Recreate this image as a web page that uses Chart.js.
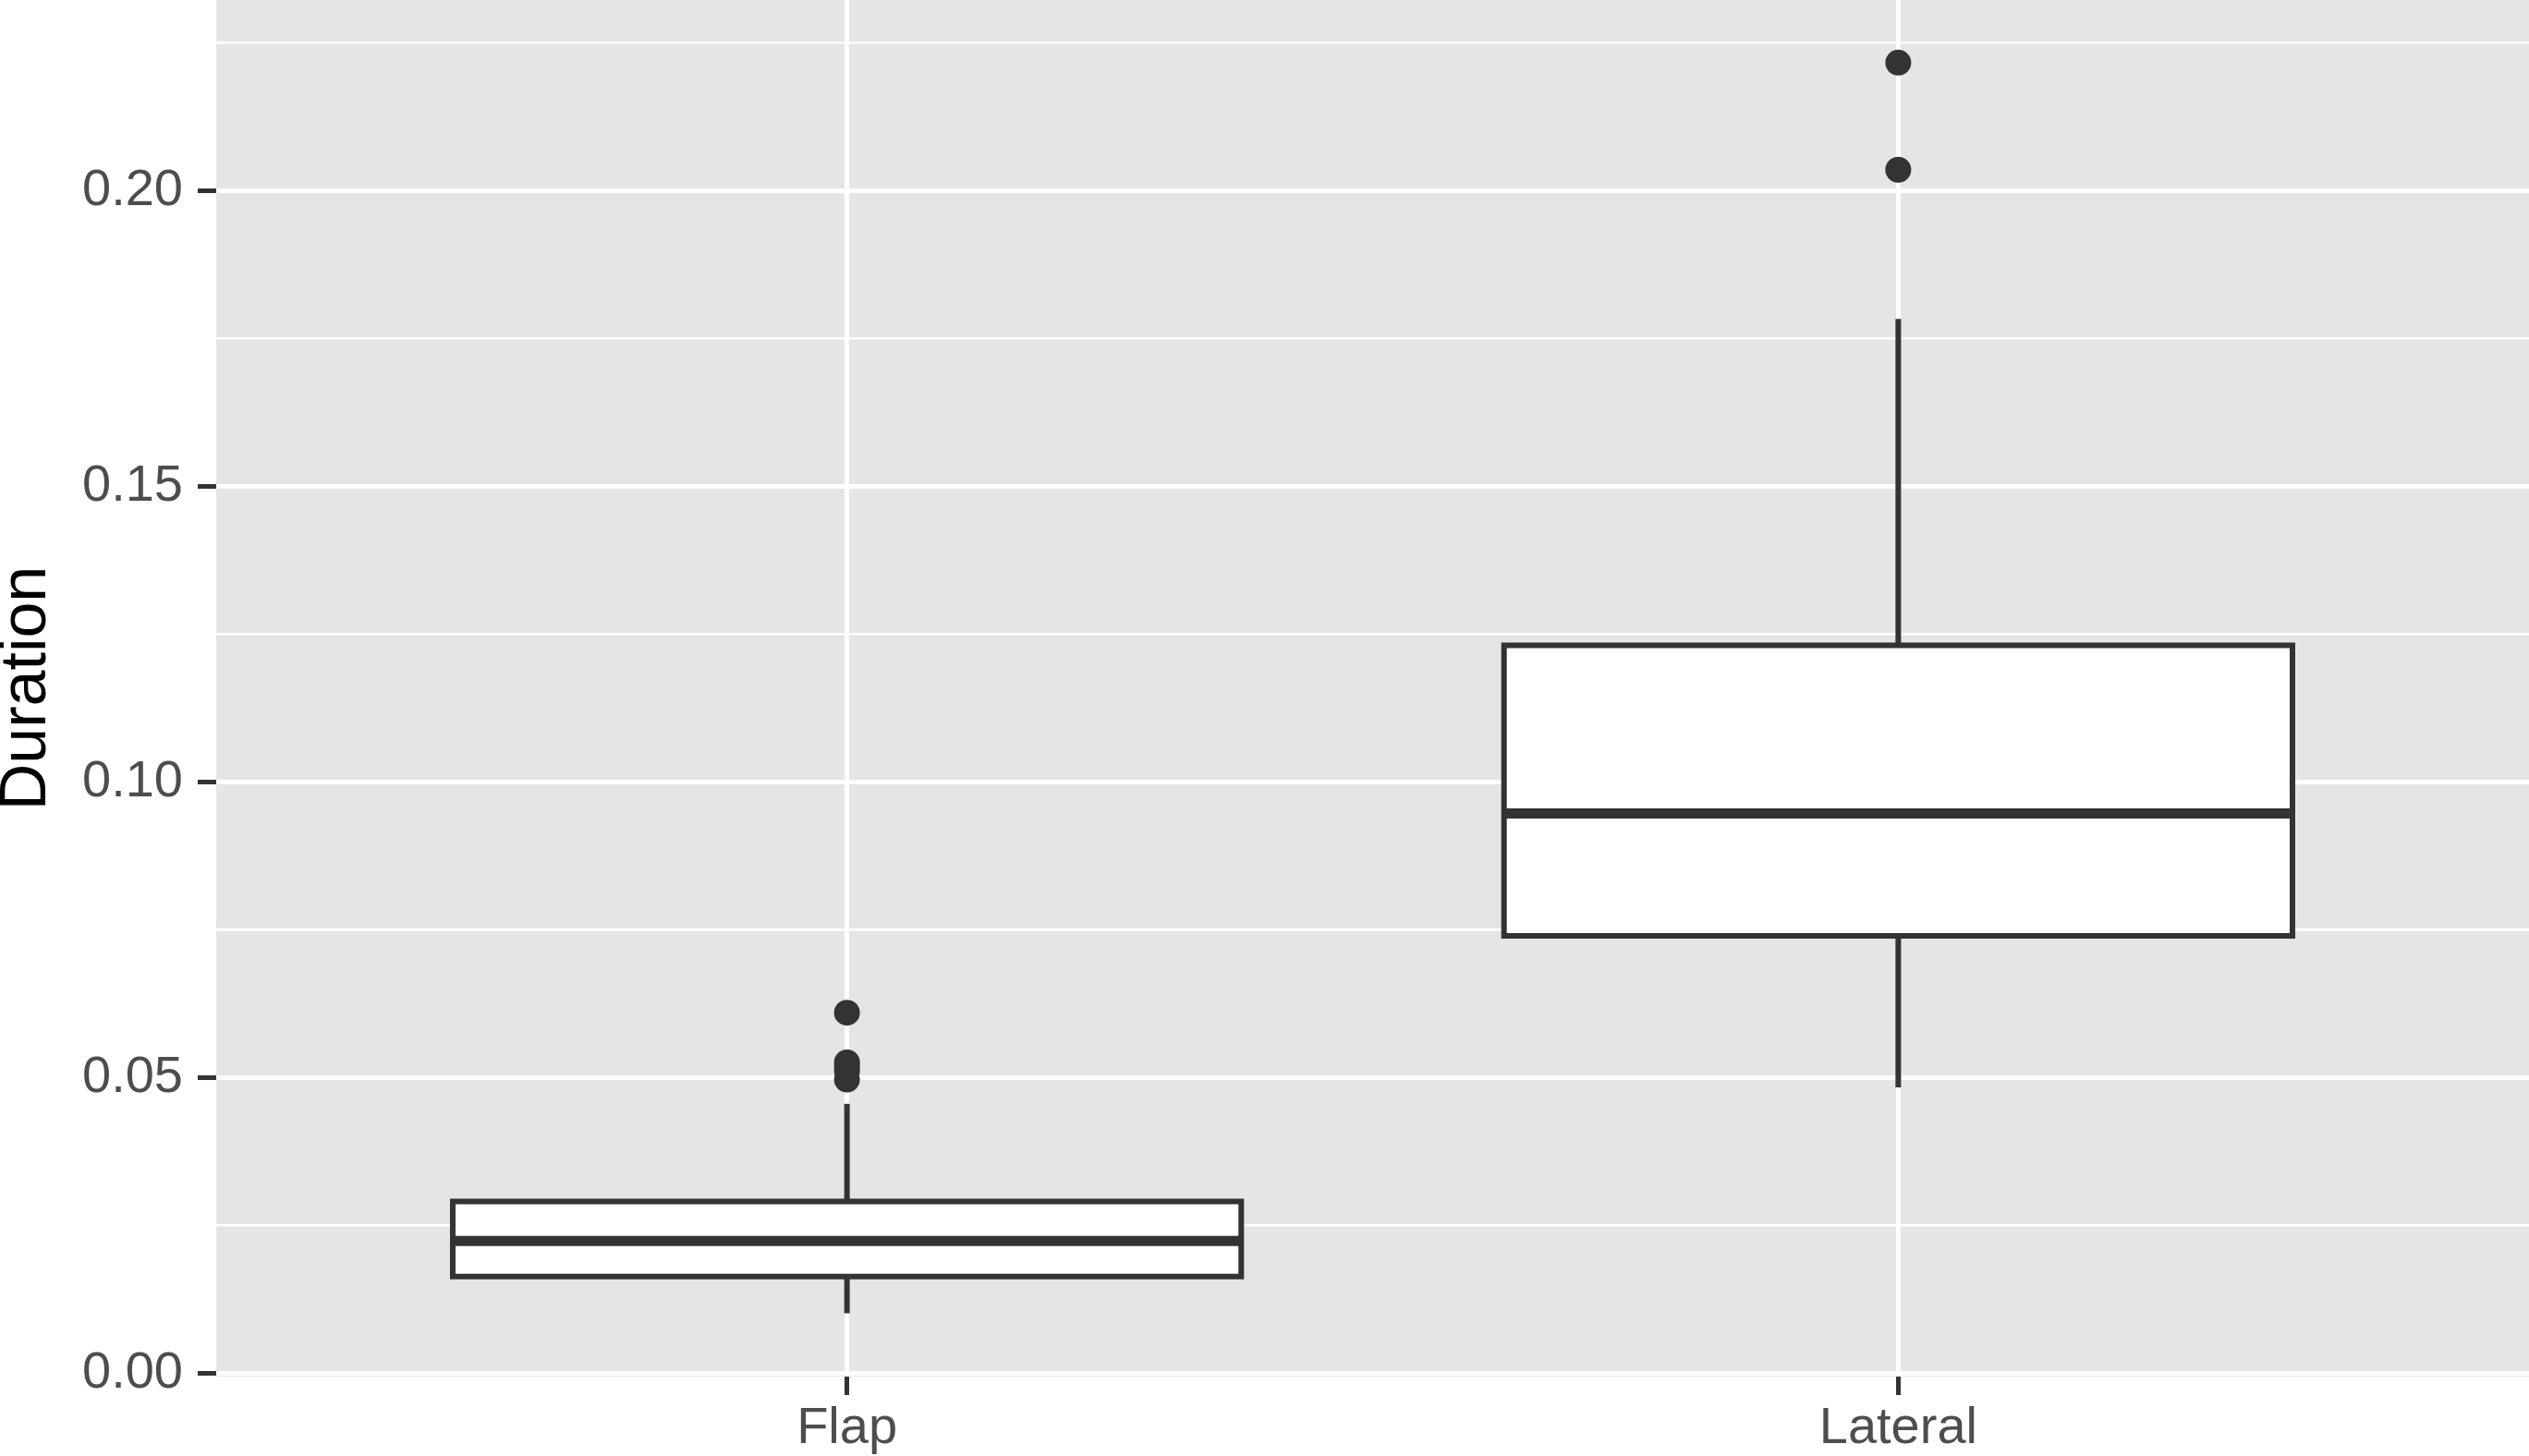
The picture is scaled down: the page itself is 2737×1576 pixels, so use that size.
<!DOCTYPE html>
<html>
<head>
<meta charset="utf-8">
<script src="https://cdn.jsdelivr.net/npm/chart.js@4.4.1/dist/chart.umd.min.js"></script>
<style>
html, body { margin: 0; padding: 0; background: #ffffff; }
canvas { display: block; }
</style>
</head>
<body>
<canvas id="myChart" width="2737" height="1576" style="width:2737px;height:1576px"></canvas>
<script>
// box summary per category
var categories = ['Flap', 'Lateral'];
var positions = [1, 2];
var lowerWhisker = [0.0102, 0.0484];
var q1 = [0.0164, 0.0740];
var median = [0.0224, 0.0947];
var q3 = [0.0291, 0.1231];
var upperWhisker = [0.0456, 0.1783];
var outliers = [
    [0.0497, 0.0512, 0.0520, 0.0526, 0.0610],
    [0.2035, 0.2216]
];

var yMajorTicks = [0, 0.05, 0.10, 0.15, 0.20];
var yMinorTicks = [0.025, 0.075, 0.125, 0.175, 0.225];
var yTickLabels = ['0.00', '0.05', '0.10', '0.15', '0.20'];

var boxWidth = 0.75;
var ink = '#333333';

function isMajor(v) {
    return yMajorTicks.some(function (m) { return Math.abs(m - v) < 1e-9; });
}

function noPad(scale) {
    scale.paddingLeft = 0;
    scale.paddingRight = 0;
    scale.paddingTop = 0;
    scale.paddingBottom = 0;
}

var datasets = [];

// white box fill as floating bars
datasets.push({
    type: 'bar',
    data: positions.map(function (p, i) { return { x: p, y: [q1[i], q3[i]] }; }),
    backgroundColor: '#ffffff',
    borderWidth: 0,
    barPercentage: boxWidth,
    categoryPercentage: 1,
    order: 4
});

positions.forEach(function (p, i) {
    var l = p - boxWidth / 2, r = p + boxWidth / 2;
    // whiskers
    datasets.push({
        type: 'line',
        data: [{ x: p, y: lowerWhisker[i] }, { x: p, y: q1[i] }],
        borderColor: ink, borderWidth: 6, pointRadius: 0, order: 5
    });
    datasets.push({
        type: 'line',
        data: [{ x: p, y: q3[i] }, { x: p, y: upperWhisker[i] }],
        borderColor: ink, borderWidth: 6, pointRadius: 0, order: 5
    });
    // box outline, centred on the quartiles
    datasets.push({
        type: 'line',
        data: [{ x: l, y: q1[i] }, { x: r, y: q1[i] }, { x: r, y: q3[i] }, { x: l, y: q3[i] }, { x: l, y: q1[i] }],
        borderColor: ink, borderWidth: 6, pointRadius: 0,
        borderJoinStyle: 'miter', borderCapStyle: 'square', order: 2
    });
    // median
    datasets.push({
        type: 'line',
        data: [{ x: l, y: median[i] }, { x: r, y: median[i] }],
        borderColor: ink, borderWidth: 11, pointRadius: 0, order: 1
    });
});

// outlier points
var outlierPoints = [];
outliers.forEach(function (list, i) {
    list.forEach(function (v) { outlierPoints.push({ x: positions[i], y: v }); });
});
datasets.push({
    type: 'scatter',
    data: outlierPoints,
    backgroundColor: ink,
    borderWidth: 0,
    pointRadius: 14,
    order: 0
});

var panelBg = {
    id: 'panelBg',
    beforeDraw: function (chart) {
        var a = chart.chartArea, c = chart.ctx;
        c.save();
        c.fillStyle = '#E5E5E5';
        c.fillRect(a.left, a.top, a.right - a.left, a.bottom - a.top);
        c.restore();
    }
};

var ctx = document.getElementById('myChart').getContext('2d');
var myChart = new Chart(ctx, {
    type: 'bar',
    data: { datasets: datasets },
    plugins: [panelBg],
    options: {
        responsive: false,
        devicePixelRatio: 1,
        animation: false,
        events: [],
        layout: { padding: 0, autoPadding: false },
        plugins: {
            legend: { display: false },
            tooltip: { enabled: false }
        },
        scales: {
            x: {
                type: 'linear',
                offset: false,
                min: 0.4,
                max: 2.6,
                afterBuildTicks: function (scale) {
                    scale.ticks = positions.map(function (p) { return { value: p }; });
                },
                afterFit: function (scale) { scale.height = 86; noPad(scale); },
                border: { display: false },
                grid: {
                    offset: false,
                    color: '#ffffff',
                    lineWidth: 5,
                    drawTicks: true,
                    tickLength: 20,
                    tickColor: ink,
                    tickWidth: 5
                },
                ticks: {
                    autoSkip: false,
                    maxRotation: 0,
                    padding: 9,
                    color: '#4D4D4D',
                    font: { family: 'Liberation Sans', size: 56, lineHeight: 1 },
                    callback: function (value, index) { return categories[index]; }
                }
            },
            y: {
                type: 'linear',
                min: -0.0005,
                max: 0.2322,
                afterBuildTicks: function (scale) {
                    scale.ticks = yMajorTicks.concat(yMinorTicks)
                        .sort(function (a, b) { return a - b; })
                        .map(function (v) { return { value: v }; });
                },
                afterFit: function (scale) { scale.width = 234; noPad(scale); },
                border: { display: false },
                grid: {
                    color: '#ffffff',
                    lineWidth: function (c) { return isMajor(c.tick.value) ? 5 : 2.5; },
                    drawTicks: true,
                    tickLength: 20,
                    tickColor: function (c) { return isMajor(c.tick.value) ? ink : 'rgba(0,0,0,0)'; },
                    tickWidth: 5
                },
                ticks: {
                    autoSkip: false,
                    padding: 16,
                    color: '#4D4D4D',
                    font: { family: 'Liberation Sans', size: 56, lineHeight: 1 },
                    callback: function (value) {
                        var k = yMajorTicks.findIndex(function (m) { return Math.abs(m - value) < 1e-9; });
                        return k >= 0 ? yTickLabels[k] : '';
                    }
                },
                title: {
                    display: true,
                    text: 'Duration',
                    color: '#000000',
                    padding: 0,
                    font: { family: 'Liberation Sans', size: 70, lineHeight: 0.85 }
                }
            }
        }
    }
});
</script>
</body>
</html>
